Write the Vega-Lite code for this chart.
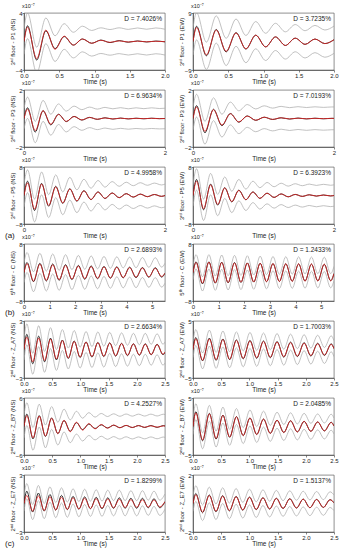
{
"$schema":"https://vega.github.io/schema/vega-lite/v6.json",
"padding":{"left":4,"top":3,"right":2,"bottom":2},
"background":"white",
"datasets":{
"a1L":[{"t":0,"b":0,"r":0,"u":1.8,"l":-1.8},{"t":0.05,"b":2.2,"r":2.0,"u":4.0,"l":0.4},{"t":0.18,"b":-2.6,"r":-2.4,"u":-0.8,"l":-4.4},{"t":0.31,"b":1.5,"r":1.6,"u":3.3,"l":-0.3},{"t":0.44,"b":-1.0,"r":-1.1,"u":0.8,"l":-2.8},{"t":0.57,"b":0.7,"r":0.75,"u":2.5,"l":-1.1},{"t":0.70,"b":-0.5,"r":-0.5,"u":1.3,"l":-2.3},{"t":0.83,"b":0.35,"r":0.35,"u":2.15,"l":-1.45},{"t":0.96,"b":-0.25,"r":-0.25,"u":1.55,"l":-2.05},{"t":1.09,"b":0.2,"r":0.17,"u":1.92,"l":-1.68},{"t":1.22,"b":-0.15,"r":-0.12,"u":1.68,"l":-1.92},{"t":1.35,"b":0.12,"r":0.09,"u":1.92,"l":-1.7},{"t":1.48,"b":-0.1,"r":-0.07,"u":1.7,"l":-1.9},{"t":1.61,"b":0.08,"r":0.05,"u":1.9,"l":-1.72},{"t":1.74,"b":-0.07,"r":-0.04,"u":1.72,"l":-1.9},{"t":1.87,"b":0.06,"r":0.03,"u":1.9,"l":-1.72},{"t":2.0,"b":-0.05,"r":-0.02,"u":1.72,"l":-1.9}],
"a1R":[{"t":0,"b":0,"r":0,"u":4.3,"l":-4.3},{"t":0.05,"b":4.8,"r":4.4,"u":9.1,"l":0.5},{"t":0.19,"b":-4.5,"r":-4.2,"u":-0.2,"l":-8.8},{"t":0.33,"b":3.8,"r":3.6,"u":8.1,"l":-0.5},{"t":0.47,"b":-3.3,"r":-3.1,"u":1.0,"l":-7.6},{"t":0.61,"b":2.8,"r":2.7,"u":7.1,"l":-1.5},{"t":0.75,"b":-2.4,"r":-2.3,"u":1.9,"l":-6.7},{"t":0.89,"b":2.0,"r":2.0,"u":6.3,"l":-2.3},{"t":1.03,"b":-1.7,"r":-1.7,"u":2.6,"l":-6.0},{"t":1.17,"b":1.45,"r":1.45,"u":5.75,"l":-2.85},{"t":1.31,"b":-1.25,"r":-1.25,"u":3.05,"l":-5.55},{"t":1.45,"b":1.05,"r":1.05,"u":5.35,"l":-3.25},{"t":1.59,"b":-0.9,"r":-0.9,"u":3.4,"l":-5.2},{"t":1.73,"b":0.78,"r":0.77,"u":5.08,"l":-3.52},{"t":1.87,"b":-0.66,"r":-0.66,"u":3.64,"l":-4.96},{"t":2.0,"b":0.56,"r":0.56,"u":4.86,"l":-3.74}],
"a2L":[{"t":0,"b":0,"r":0,"u":0.72,"l":-0.72},{"t":0.05,"b":0.75,"r":0.65,"u":1.5,"l":0},{"t":0.16,"b":-0.95,"r":-0.85,"u":-0.2,"l":-1.7},{"t":0.27,"b":0.55,"r":0.55,"u":1.27,"l":-0.2},{"t":0.38,"b":-0.45,"r":-0.4,"u":0.3,"l":-1.17},{"t":0.49,"b":0.3,"r":0.28,"u":1.02,"l":-0.42},{"t":0.60,"b":-0.22,"r":-0.2,"u":0.52,"l":-0.94},{"t":0.71,"b":0.15,"r":0.14,"u":0.87,"l":-0.57},{"t":0.82,"b":-0.11,"r":-0.1,"u":0.62,"l":-0.83},{"t":0.93,"b":0.08,"r":0.07,"u":0.8,"l":-0.64},{"t":1.04,"b":-0.06,"r":-0.05,"u":0.66,"l":-0.78},{"t":1.15,"b":0.05,"r":0.04,"u":0.78,"l":-0.67},{"t":1.26,"b":-0.04,"r":-0.03,"u":0.68,"l":-0.76},{"t":1.37,"b":0.03,"r":0.02,"u":0.76,"l":-0.69},{"t":1.48,"b":-0.03,"r":-0.02,"u":0.68,"l":-0.75},{"t":1.59,"b":0.02,"r":0.01,"u":0.75,"l":-0.7},{"t":1.70,"b":-0.02,"r":-0.01,"u":0.69,"l":-0.74},{"t":1.81,"b":0.02,"r":0.01,"u":0.75,"l":-0.7},{"t":1.92,"b":-0.01,"r":-0.01,"u":0.7,"l":-0.73},{"t":2.0,"b":0,"r":0,"u":0.72,"l":-0.72}],
"a2R":[{"t":0,"b":0,"r":0,"u":0.8,"l":-0.8},{"t":0.05,"b":0.9,"r":0.8,"u":1.7,"l":0.1},{"t":0.17,"b":-1.0,"r":-0.9,"u":-0.2,"l":-1.8},{"t":0.29,"b":0.65,"r":0.62,"u":1.45,"l":-0.15},{"t":0.41,"b":-0.5,"r":-0.46,"u":0.3,"l":-1.3},{"t":0.53,"b":0.35,"r":0.33,"u":1.15,"l":-0.45},{"t":0.65,"b":-0.26,"r":-0.24,"u":0.54,"l":-1.06},{"t":0.77,"b":0.18,"r":0.17,"u":0.98,"l":-0.62},{"t":0.89,"b":-0.13,"r":-0.12,"u":0.67,"l":-0.93},{"t":1.01,"b":0.09,"r":0.09,"u":0.89,"l":-0.71},{"t":1.13,"b":-0.07,"r":-0.06,"u":0.73,"l":-0.87},{"t":1.25,"b":0.05,"r":0.05,"u":0.85,"l":-0.75},{"t":1.37,"b":-0.04,"r":-0.03,"u":0.76,"l":-0.84},{"t":1.49,"b":0.03,"r":0.02,"u":0.83,"l":-0.77},{"t":1.61,"b":-0.03,"r":-0.02,"u":0.77,"l":-0.83},{"t":1.73,"b":0.02,"r":0.01,"u":0.82,"l":-0.78},{"t":1.85,"b":-0.02,"r":-0.01,"u":0.78,"l":-0.82},{"t":1.97,"b":0.01,"r":0.01,"u":0.81,"l":-0.79},{"t":2.0,"b":0.01,"r":0,"u":0.81,"l":-0.79}],
"a3L":[{"t":0,"b":0,"r":0,"u":3.2,"l":-3.2},{"t":0.05,"b":4.0,"r":3.5,"u":7.2,"l":0.8},{"t":0.15,"b":-4.2,"r":-3.8,"u":-1.0,"l":-7.4},{"t":0.25,"b":3.4,"r":3.2,"u":6.6,"l":0.2},{"t":0.35,"b":-3.0,"r":-2.8,"u":0.2,"l":-6.2},{"t":0.45,"b":2.6,"r":2.4,"u":5.8,"l":-0.6},{"t":0.55,"b":-2.2,"r":-2.1,"u":1.0,"l":-5.4},{"t":0.65,"b":1.9,"r":1.8,"u":5.1,"l":-1.3},{"t":0.75,"b":-1.6,"r":-1.5,"u":1.6,"l":-4.8},{"t":0.85,"b":1.35,"r":1.3,"u":4.55,"l":-1.85},{"t":0.95,"b":-1.15,"r":-1.1,"u":2.05,"l":-4.35},{"t":1.05,"b":1.0,"r":0.95,"u":4.2,"l":-2.2},{"t":1.15,"b":-0.85,"r":-0.8,"u":2.35,"l":-4.05},{"t":1.25,"b":0.72,"r":0.7,"u":3.92,"l":-2.48},{"t":1.35,"b":-0.62,"r":-0.6,"u":2.58,"l":-3.82},{"t":1.45,"b":0.53,"r":0.5,"u":3.73,"l":-2.67},{"t":1.55,"b":-0.45,"r":-0.43,"u":2.75,"l":-3.65},{"t":1.65,"b":0.39,"r":0.37,"u":3.59,"l":-2.81},{"t":1.75,"b":-0.33,"r":-0.32,"u":2.87,"l":-3.53},{"t":1.85,"b":0.28,"r":0.27,"u":3.48,"l":-2.92},{"t":1.95,"b":-0.24,"r":-0.23,"u":2.96,"l":-3.44},{"t":2.0,"b":0,"r":0,"u":3.2,"l":-3.2}],
"a3R":[{"t":0,"b":0,"r":0,"u":3.0,"l":-3.0},{"t":0.05,"b":4.5,"r":4.0,"u":7.5,"l":1.5},{"t":0.15,"b":-4.0,"r":-3.7,"u":-1.0,"l":-7.0},{"t":0.25,"b":3.2,"r":3.0,"u":6.2,"l":0.2},{"t":0.35,"b":-2.7,"r":-2.5,"u":0.3,"l":-5.7},{"t":0.45,"b":2.2,"r":2.1,"u":5.2,"l":-0.8},{"t":0.55,"b":-1.8,"r":-1.7,"u":1.2,"l":-4.8},{"t":0.65,"b":1.5,"r":1.4,"u":4.5,"l":-1.5},{"t":0.75,"b":-1.2,"r":-1.15,"u":1.8,"l":-4.2},{"t":0.85,"b":1.0,"r":0.95,"u":4.0,"l":-2.0},{"t":0.95,"b":-0.82,"r":-0.78,"u":2.18,"l":-3.82},{"t":1.05,"b":0.67,"r":0.64,"u":3.67,"l":-2.33},{"t":1.15,"b":-0.55,"r":-0.52,"u":2.45,"l":-3.55},{"t":1.25,"b":0.45,"r":0.43,"u":3.45,"l":-2.55},{"t":1.35,"b":-0.37,"r":-0.35,"u":2.63,"l":-3.37},{"t":1.45,"b":0.3,"r":0.29,"u":3.3,"l":-2.7},{"t":1.55,"b":-0.25,"r":-0.24,"u":2.75,"l":-3.25},{"t":1.65,"b":0.2,"r":0.2,"u":3.2,"l":-2.8},{"t":1.75,"b":-0.17,"r":-0.16,"u":2.83,"l":-3.17},{"t":1.85,"b":0.14,"r":0.13,"u":3.14,"l":-2.86},{"t":1.95,"b":-0.12,"r":-0.11,"u":2.88,"l":-3.12},{"t":2.0,"b":0,"r":0,"u":3.0,"l":-3.0}],
"bL":[{"t":0,"b":0,"r":0,"u":2.8,"l":-2.8},{"t":0.12,"b":2.8,"r":2.5,"u":5.6,"l":0.0},{"t":0.37,"b":-2.6,"r":-2.4,"u":0.2,"l":-5.4},{"t":0.62,"b":2.6,"r":2.35,"u":5.4,"l":-0.2},{"t":0.87,"b":-2.4,"r":-2.2,"u":0.4,"l":-5.2},{"t":1.12,"b":2.4,"r":2.15,"u":5.2,"l":-0.4},{"t":1.37,"b":-2.2,"r":-2.0,"u":0.6,"l":-5.0},{"t":1.62,"b":2.2,"r":1.95,"u":5.0,"l":-0.6},{"t":1.87,"b":-2.0,"r":-1.85,"u":0.8,"l":-4.8},{"t":2.12,"b":2.0,"r":1.8,"u":4.8,"l":-0.8},{"t":2.37,"b":-1.9,"r":-1.7,"u":0.9,"l":-4.7},{"t":2.62,"b":1.85,"r":1.65,"u":4.65,"l":-0.95},{"t":2.87,"b":-1.75,"r":-1.6,"u":1.05,"l":-4.55},{"t":3.12,"b":1.7,"r":1.55,"u":4.5,"l":-1.1},{"t":3.37,"b":-1.6,"r":-1.5,"u":1.2,"l":-4.4},{"t":3.62,"b":1.6,"r":1.45,"u":4.4,"l":-1.2},{"t":3.87,"b":-1.5,"r":-1.4,"u":1.3,"l":-4.3},{"t":4.12,"b":1.5,"r":1.35,"u":4.3,"l":-1.3},{"t":4.37,"b":-1.45,"r":-1.3,"u":1.35,"l":-4.25},{"t":4.62,"b":1.4,"r":1.25,"u":4.2,"l":-1.4},{"t":4.87,"b":-1.35,"r":-1.2,"u":1.45,"l":-4.15},{"t":5.12,"b":1.35,"r":1.15,"u":4.15,"l":-1.45},{"t":5.37,"b":-1.3,"r":-1.1,"u":1.5,"l":-4.1},{"t":5.5,"b":-0.2,"r":-0.2,"u":2.6,"l":-3.0}],
"bR":[{"t":0,"b":0,"r":0,"u":2.0,"l":-2.0},{"t":0.12,"b":3.0,"r":2.8,"u":5.0,"l":1.0},{"t":0.37,"b":-3.2,"r":-3.0,"u":-1.2,"l":-5.2},{"t":0.62,"b":3.0,"r":2.9,"u":5.0,"l":1.0},{"t":0.87,"b":-3.0,"r":-2.9,"u":-1.0,"l":-5.0},{"t":1.12,"b":2.9,"r":2.8,"u":4.9,"l":0.9},{"t":1.37,"b":-2.9,"r":-2.8,"u":-0.9,"l":-4.9},{"t":1.62,"b":2.8,"r":2.7,"u":4.8,"l":0.8},{"t":1.87,"b":-2.8,"r":-2.7,"u":-0.8,"l":-4.8},{"t":2.12,"b":2.7,"r":2.65,"u":4.7,"l":0.7},{"t":2.37,"b":-2.7,"r":-2.65,"u":-0.7,"l":-4.7},{"t":2.62,"b":2.6,"r":2.6,"u":4.6,"l":0.6},{"t":2.87,"b":-2.6,"r":-2.6,"u":-0.6,"l":-4.6},{"t":3.12,"b":2.5,"r":2.55,"u":4.5,"l":0.5},{"t":3.37,"b":-2.5,"r":-2.55,"u":-0.5,"l":-4.5},{"t":3.62,"b":2.45,"r":2.5,"u":4.45,"l":0.45},{"t":3.87,"b":-2.45,"r":-2.5,"u":-0.45,"l":-4.45},{"t":4.12,"b":2.4,"r":2.45,"u":4.4,"l":0.4},{"t":4.37,"b":-2.4,"r":-2.45,"u":-0.4,"l":-4.4},{"t":4.62,"b":2.35,"r":2.4,"u":4.35,"l":0.35},{"t":4.87,"b":-2.35,"r":-2.4,"u":-0.35,"l":-4.35},{"t":5.12,"b":2.3,"r":2.35,"u":4.3,"l":0.3},{"t":5.37,"b":-2.3,"r":-2.35,"u":-0.3,"l":-4.3},{"t":5.5,"b":-0.3,"r":-0.3,"u":1.7,"l":-2.3}],
"c1L":[{"t":0,"b":0,"r":0,"u":1.1,"l":-1.1},{"t":0.05,"b":1.6,"r":1.3,"u":2.7,"l":0.5},{"t":0.155,"b":-1.5,"r":-1.3,"u":-0.4,"l":-2.6},{"t":0.26,"b":1.4,"r":1.2,"u":2.5,"l":0.3},{"t":0.365,"b":-1.3,"r":-1.15,"u":-0.2,"l":-2.4},{"t":0.47,"b":1.2,"r":1.1,"u":2.3,"l":0.1},{"t":0.575,"b":-1.1,"r":-1.0,"u":0.0,"l":-2.2},{"t":0.68,"b":1.0,"r":0.95,"u":2.1,"l":-0.1},{"t":0.785,"b":-0.95,"r":-0.9,"u":0.15,"l":-2.05},{"t":0.89,"b":0.9,"r":0.85,"u":2.0,"l":-0.2},{"t":0.995,"b":-0.85,"r":-0.8,"u":0.25,"l":-1.95},{"t":1.1,"b":0.8,"r":0.78,"u":1.9,"l":-0.3},{"t":1.205,"b":-0.8,"r":-0.75,"u":0.3,"l":-1.9},{"t":1.31,"b":0.75,"r":0.72,"u":1.85,"l":-0.35},{"t":1.415,"b":-0.75,"r":-0.7,"u":0.35,"l":-1.85},{"t":1.52,"b":0.7,"r":0.67,"u":1.8,"l":-0.4},{"t":1.625,"b":-0.7,"r":-0.65,"u":0.4,"l":-1.8},{"t":1.73,"b":0.65,"r":0.62,"u":1.75,"l":-0.45},{"t":1.835,"b":-0.65,"r":-0.6,"u":0.45,"l":-1.75},{"t":1.94,"b":0.6,"r":0.58,"u":1.7,"l":-0.5},{"t":2.045,"b":-0.6,"r":-0.56,"u":0.5,"l":-1.7},{"t":2.15,"b":0.6,"r":0.55,"u":1.7,"l":-0.5},{"t":2.255,"b":-0.55,"r":-0.53,"u":0.55,"l":-1.65},{"t":2.36,"b":0.55,"r":0.52,"u":1.65,"l":-0.55},{"t":2.465,"b":-0.55,"r":-0.5,"u":0.55,"l":-1.65},{"t":2.5,"b":-0.3,"r":-0.25,"u":0.8,"l":-1.4}],
"c1R":[{"t":0,"b":0,"r":0,"u":1.4,"l":-1.4},{"t":0.05,"b":2.1,"r":1.9,"u":3.5,"l":0.7},{"t":0.17,"b":-2.0,"r":-1.9,"u":-0.6,"l":-3.4},{"t":0.29,"b":2.0,"r":1.85,"u":3.4,"l":0.6},{"t":0.41,"b":-1.9,"r":-1.8,"u":-0.5,"l":-3.3},{"t":0.53,"b":1.85,"r":1.75,"u":3.25,"l":0.45},{"t":0.65,"b":-1.8,"r":-1.7,"u":-0.4,"l":-3.2},{"t":0.77,"b":1.7,"r":1.6,"u":3.1,"l":0.3},{"t":0.89,"b":-1.65,"r":-1.55,"u":-0.25,"l":-3.05},{"t":1.01,"b":1.6,"r":1.5,"u":3.0,"l":0.2},{"t":1.13,"b":-1.55,"r":-1.45,"u":-0.15,"l":-2.95},{"t":1.25,"b":1.5,"r":1.4,"u":2.9,"l":0.1},{"t":1.37,"b":-1.45,"r":-1.35,"u":-0.05,"l":-2.85},{"t":1.49,"b":1.4,"r":1.3,"u":2.8,"l":0.0},{"t":1.61,"b":-1.35,"r":-1.25,"u":0.05,"l":-2.75},{"t":1.73,"b":1.3,"r":1.2,"u":2.7,"l":-0.1},{"t":1.85,"b":-1.25,"r":-1.15,"u":0.15,"l":-2.65},{"t":1.97,"b":1.2,"r":1.1,"u":2.6,"l":-0.2},{"t":2.09,"b":-1.15,"r":-1.05,"u":0.25,"l":-2.55},{"t":2.21,"b":1.1,"r":1.0,"u":2.5,"l":-0.3},{"t":2.33,"b":-1.05,"r":-0.95,"u":0.35,"l":-2.45},{"t":2.45,"b":1.0,"r":0.9,"u":2.4,"l":-0.4},{"t":2.5,"b":0.15,"r":0.15,"u":1.55,"l":-1.25}],
"c2L":[{"t":0,"b":0,"r":0,"u":2.4,"l":-2.4},{"t":0.05,"b":2.6,"r":2.3,"u":5.0,"l":0.2},{"t":0.16,"b":-2.6,"r":-2.4,"u":-0.2,"l":-5.0},{"t":0.27,"b":2.3,"r":2.2,"u":4.7,"l":-0.1},{"t":0.38,"b":-2.1,"r":-2.0,"u":0.3,"l":-4.5},{"t":0.49,"b":1.8,"r":1.75,"u":4.2,"l":-0.6},{"t":0.60,"b":-1.5,"r":-1.5,"u":0.9,"l":-3.9},{"t":0.71,"b":1.25,"r":1.3,"u":3.65,"l":-1.15},{"t":0.82,"b":-1.0,"r":-1.1,"u":1.4,"l":-3.4},{"t":0.93,"b":0.8,"r":0.9,"u":3.2,"l":-1.6},{"t":1.04,"b":-0.65,"r":-0.75,"u":1.75,"l":-3.05},{"t":1.15,"b":0.52,"r":0.62,"u":2.92,"l":-1.88},{"t":1.26,"b":-0.42,"r":-0.5,"u":1.98,"l":-2.82},{"t":1.37,"b":0.35,"r":0.42,"u":2.75,"l":-2.05},{"t":1.48,"b":-0.3,"r":-0.35,"u":2.1,"l":-2.7},{"t":1.59,"b":0.27,"r":0.3,"u":2.67,"l":-2.13},{"t":1.70,"b":-0.25,"r":-0.26,"u":2.15,"l":-2.65},{"t":1.81,"b":0.23,"r":0.23,"u":2.63,"l":-2.17},{"t":1.92,"b":-0.22,"r":-0.2,"u":2.18,"l":-2.62},{"t":2.03,"b":0.2,"r":0.18,"u":2.6,"l":-2.2},{"t":2.14,"b":-0.2,"r":-0.16,"u":2.2,"l":-2.6},{"t":2.25,"b":0.2,"r":0.15,"u":2.6,"l":-2.2},{"t":2.36,"b":-0.18,"r":-0.14,"u":2.22,"l":-2.58},{"t":2.47,"b":0.18,"r":0.13,"u":2.58,"l":-2.22},{"t":2.5,"b":0.1,"r":0.1,"u":2.5,"l":-2.3}],
"c2R":[{"t":0,"b":0,"r":0,"u":1.4,"l":-1.4},{"t":0.05,"b":2.6,"r":2.4,"u":4.0,"l":1.2},{"t":0.17,"b":-2.5,"r":-2.35,"u":-1.1,"l":-3.9},{"t":0.29,"b":2.3,"r":2.2,"u":3.7,"l":0.9},{"t":0.41,"b":-2.2,"r":-2.1,"u":-0.8,"l":-3.6},{"t":0.53,"b":2.0,"r":1.95,"u":3.4,"l":0.6},{"t":0.65,"b":-1.9,"r":-1.85,"u":-0.5,"l":-3.3},{"t":0.77,"b":1.75,"r":1.7,"u":3.15,"l":0.35},{"t":0.89,"b":-1.6,"r":-1.6,"u":-0.2,"l":-3.0},{"t":1.01,"b":1.5,"r":1.5,"u":2.9,"l":0.1},{"t":1.13,"b":-1.4,"r":-1.4,"u":0.0,"l":-2.8},{"t":1.25,"b":1.3,"r":1.3,"u":2.7,"l":-0.1},{"t":1.37,"b":-1.2,"r":-1.2,"u":0.2,"l":-2.6},{"t":1.49,"b":1.1,"r":1.1,"u":2.5,"l":-0.3},{"t":1.61,"b":-1.05,"r":-1.05,"u":0.35,"l":-2.45},{"t":1.73,"b":1.0,"r":1.0,"u":2.4,"l":-0.4},{"t":1.85,"b":-0.95,"r":-0.95,"u":0.45,"l":-2.35},{"t":1.97,"b":0.9,"r":0.9,"u":2.3,"l":-0.5},{"t":2.09,"b":-0.85,"r":-0.85,"u":0.55,"l":-2.25},{"t":2.21,"b":0.8,"r":0.8,"u":2.2,"l":-0.6},{"t":2.33,"b":-0.78,"r":-0.75,"u":0.62,"l":-2.18},{"t":2.45,"b":0.75,"r":0.7,"u":2.15,"l":-0.65},{"t":2.5,"b":0.1,"r":0.1,"u":1.5,"l":-1.3}],
"c3L":[{"t":0,"b":0,"r":0,"u":0.8,"l":-0.8},{"t":0.05,"b":1.3,"r":0.85,"u":2.1,"l":0.5},{"t":0.153,"b":-0.9,"r":-0.8,"u":-0.1,"l":-1.7},{"t":0.255,"b":1.1,"r":0.8,"u":1.9,"l":0.3},{"t":0.358,"b":-0.8,"r":-0.75,"u":0.0,"l":-1.6},{"t":0.46,"b":0.95,"r":0.72,"u":1.75,"l":0.15},{"t":0.563,"b":-0.7,"r":-0.68,"u":0.1,"l":-1.5},{"t":0.665,"b":0.85,"r":0.65,"u":1.65,"l":0.05},{"t":0.768,"b":-0.65,"r":-0.62,"u":0.15,"l":-1.45},{"t":0.87,"b":0.75,"r":0.6,"u":1.55,"l":-0.05},{"t":0.973,"b":-0.6,"r":-0.57,"u":0.2,"l":-1.4},{"t":1.075,"b":0.7,"r":0.55,"u":1.5,"l":-0.1},{"t":1.178,"b":-0.55,"r":-0.52,"u":0.25,"l":-1.35},{"t":1.28,"b":0.65,"r":0.5,"u":1.45,"l":-0.15},{"t":1.383,"b":-0.55,"r":-0.48,"u":0.25,"l":-1.35},{"t":1.485,"b":0.6,"r":0.47,"u":1.4,"l":-0.2},{"t":1.588,"b":-0.5,"r":-0.45,"u":0.3,"l":-1.3},{"t":1.69,"b":0.6,"r":0.44,"u":1.4,"l":-0.2},{"t":1.793,"b":-0.5,"r":-0.42,"u":0.3,"l":-1.3},{"t":1.895,"b":0.55,"r":0.41,"u":1.35,"l":-0.25},{"t":1.998,"b":-0.5,"r":-0.4,"u":0.3,"l":-1.3},{"t":2.1,"b":0.55,"r":0.39,"u":1.35,"l":-0.25},{"t":2.203,"b":-0.45,"r":-0.38,"u":0.35,"l":-1.25},{"t":2.305,"b":0.5,"r":0.37,"u":1.3,"l":-0.3},{"t":2.408,"b":-0.45,"r":-0.36,"u":0.35,"l":-1.25},{"t":2.5,"b":0.2,"r":0.2,"u":1.0,"l":-0.6}],
"c3R":[{"t":0,"b":0,"r":0,"u":0.55,"l":-0.55},{"t":0.05,"b":0.7,"r":0.62,"u":1.25,"l":0.15},{"t":0.169,"b":-0.65,"r":-0.6,"u":-0.1,"l":-1.2},{"t":0.288,"b":0.6,"r":0.56,"u":1.15,"l":0.05},{"t":0.407,"b":-0.58,"r":-0.54,"u":-0.03,"l":-1.13},{"t":0.526,"b":0.55,"r":0.51,"u":1.1,"l":0.0},{"t":0.645,"b":-0.52,"r":-0.49,"u":0.03,"l":-1.07},{"t":0.764,"b":0.5,"r":0.47,"u":1.05,"l":-0.05},{"t":0.883,"b":-0.47,"r":-0.45,"u":0.08,"l":-1.02},{"t":1.002,"b":0.45,"r":0.43,"u":1.0,"l":-0.1},{"t":1.121,"b":-0.43,"r":-0.41,"u":0.12,"l":-0.98},{"t":1.24,"b":0.41,"r":0.39,"u":0.96,"l":-0.14},{"t":1.359,"b":-0.39,"r":-0.37,"u":0.16,"l":-0.94},{"t":1.478,"b":0.37,"r":0.35,"u":0.92,"l":-0.18},{"t":1.597,"b":-0.35,"r":-0.34,"u":0.2,"l":-0.9},{"t":1.716,"b":0.34,"r":0.32,"u":0.89,"l":-0.21},{"t":1.835,"b":-0.32,"r":-0.31,"u":0.23,"l":-0.87},{"t":1.954,"b":0.31,"r":0.3,"u":0.86,"l":-0.24},{"t":2.073,"b":-0.3,"r":-0.29,"u":0.25,"l":-0.85},{"t":2.192,"b":0.29,"r":0.28,"u":0.84,"l":-0.26},{"t":2.311,"b":-0.28,"r":-0.27,"u":0.27,"l":-0.83},{"t":2.43,"b":0.27,"r":0.26,"u":0.82,"l":-0.28},{"t":2.5,"b":0.05,"r":0.05,"u":0.6,"l":-0.5}]
},
"columns":2,
"bounds":"flush",
"spacing":{"row":20,"column":28},
"concat":[
  {"title":{"text":"x10⁻⁷","frame":"group"},"width":141,"height":57,"data":{"name":"a1L"},"encoding":{"x":{"field":"t","type":"quantitative","scale":{"domain":[0,2],"nice":false,"zero":false},"axis":{"values":[0,0.5,1,1.5,2],"format":".1f","title":"Time (s)"}}},
   "layer":[
    {"mark":{"type":"line","interpolate":"monotone","clip":true,"color":"#a6a6a6","strokeWidth":0.7},"encoding":{"y":{"field":"u","type":"quantitative","scale":{"domain":[-4,4],"nice":false,"zero":false},"axis":{"values":[-4,-2,0,2,4],"format":"~g","title":"3ʳᵈ floor - P1 (NS)"}}}},
    {"mark":{"type":"line","interpolate":"monotone","clip":true,"color":"#a6a6a6","strokeWidth":0.7},"encoding":{"y":{"field":"l","type":"quantitative"}}},
    {"mark":{"type":"line","interpolate":"monotone","clip":true,"color":"#1a1a1a","strokeWidth":0.9},"encoding":{"y":{"field":"b","type":"quantitative"}}},
    {"mark":{"type":"line","interpolate":"monotone","clip":true,"color":"#e02020","strokeWidth":0.8},"encoding":{"y":{"field":"r","type":"quantitative"}}},
    {"data":{"values":[{"d":"D = 7.4026%","t":2}]},"mark":{"type":"text","align":"right","baseline":"top","dx":-3,"dy":3,"fontSize":6.5,"color":"#222"},"encoding":{"y":{"datum":4},"text":{"field":"d"}}}
   ]},
  {"title":{"text":"x10⁻⁷","frame":"group"},"width":141,"height":57,"data":{"name":"a1R"},"encoding":{"x":{"field":"t","type":"quantitative","scale":{"domain":[0,2],"nice":false,"zero":false},"axis":{"values":[0,0.5,1,1.5,2],"format":".1f","title":"Time (s)"}}},
   "layer":[
    {"mark":{"type":"line","interpolate":"monotone","clip":true,"color":"#a6a6a6","strokeWidth":0.7},"encoding":{"y":{"field":"u","type":"quantitative","scale":{"domain":[-9,9],"nice":false,"zero":false},"axis":{"values":[-9,-6,-3,0,3,6,9],"format":"~g","title":"3ʳᵈ floor - P1 (EW)"}}}},
    {"mark":{"type":"line","interpolate":"monotone","clip":true,"color":"#a6a6a6","strokeWidth":0.7},"encoding":{"y":{"field":"l","type":"quantitative"}}},
    {"mark":{"type":"line","interpolate":"monotone","clip":true,"color":"#1a1a1a","strokeWidth":0.9},"encoding":{"y":{"field":"b","type":"quantitative"}}},
    {"mark":{"type":"line","interpolate":"monotone","clip":true,"color":"#e02020","strokeWidth":0.8},"encoding":{"y":{"field":"r","type":"quantitative"}}},
    {"data":{"values":[{"d":"D = 3.7235%","t":2}]},"mark":{"type":"text","align":"right","baseline":"top","dx":-3,"dy":3,"fontSize":6.5,"color":"#222"},"encoding":{"y":{"datum":9},"text":{"field":"d"}}}
   ]},
  {"title":{"text":"x10⁻⁷","frame":"group"},"width":141,"height":57,"data":{"name":"a2L"},"encoding":{"x":{"field":"t","type":"quantitative","scale":{"domain":[0,2],"nice":false,"zero":false},"axis":{"values":[0,1,2],"format":"d","title":"Time (s)"}}},
   "layer":[
    {"mark":{"type":"line","interpolate":"monotone","clip":true,"color":"#a6a6a6","strokeWidth":0.7},"encoding":{"y":{"field":"u","type":"quantitative","scale":{"domain":[-2,2],"nice":false,"zero":false},"axis":{"values":[-2,-1,0,1,2],"format":"~g","title":"3ʳᵈ floor - P3 (NS)"}}}},
    {"mark":{"type":"line","interpolate":"monotone","clip":true,"color":"#a6a6a6","strokeWidth":0.7},"encoding":{"y":{"field":"l","type":"quantitative"}}},
    {"mark":{"type":"line","interpolate":"monotone","clip":true,"color":"#1a1a1a","strokeWidth":0.9},"encoding":{"y":{"field":"b","type":"quantitative"}}},
    {"mark":{"type":"line","interpolate":"monotone","clip":true,"color":"#e02020","strokeWidth":0.8},"encoding":{"y":{"field":"r","type":"quantitative"}}},
    {"data":{"values":[{"d":"D = 6.9634%","t":2}]},"mark":{"type":"text","align":"right","baseline":"top","dx":-3,"dy":3,"fontSize":6.5,"color":"#222"},"encoding":{"y":{"datum":2},"text":{"field":"d"}}}
   ]},
  {"title":{"text":"x10⁻⁷","frame":"group"},"width":141,"height":57,"data":{"name":"a2R"},"encoding":{"x":{"field":"t","type":"quantitative","scale":{"domain":[0,2],"nice":false,"zero":false},"axis":{"values":[0,1,2],"format":"d","title":"Time (s)"}}},
   "layer":[
    {"mark":{"type":"line","interpolate":"monotone","clip":true,"color":"#a6a6a6","strokeWidth":0.7},"encoding":{"y":{"field":"u","type":"quantitative","scale":{"domain":[-2,2],"nice":false,"zero":false},"axis":{"values":[-2,-1,0,1,2],"format":"~g","title":"3ʳᵈ floor - P3 (EW)"}}}},
    {"mark":{"type":"line","interpolate":"monotone","clip":true,"color":"#a6a6a6","strokeWidth":0.7},"encoding":{"y":{"field":"l","type":"quantitative"}}},
    {"mark":{"type":"line","interpolate":"monotone","clip":true,"color":"#1a1a1a","strokeWidth":0.9},"encoding":{"y":{"field":"b","type":"quantitative"}}},
    {"mark":{"type":"line","interpolate":"monotone","clip":true,"color":"#e02020","strokeWidth":0.8},"encoding":{"y":{"field":"r","type":"quantitative"}}},
    {"data":{"values":[{"d":"D = 7.0193%","t":2}]},"mark":{"type":"text","align":"right","baseline":"top","dx":-3,"dy":3,"fontSize":6.5,"color":"#222"},"encoding":{"y":{"datum":2},"text":{"field":"d"}}}
   ]},
  {"title":{"text":"x10⁻⁷","frame":"group"},"width":141,"height":57,"data":{"name":"a3L"},"encoding":{"x":{"field":"t","type":"quantitative","scale":{"domain":[0,2],"nice":false,"zero":false},"axis":{"values":[0,1,2],"format":"d","title":"Time (s)"}}},
   "layer":[
    {"mark":{"type":"line","interpolate":"monotone","clip":true,"color":"#a6a6a6","strokeWidth":0.7},"encoding":{"y":{"field":"u","type":"quantitative","scale":{"domain":[-8,8],"nice":false,"zero":false},"axis":{"values":[-8,-4,0,4,8],"format":"~g","title":"3ʳᵈ floor - P5 (NS)"}}}},
    {"mark":{"type":"line","interpolate":"monotone","clip":true,"color":"#a6a6a6","strokeWidth":0.7},"encoding":{"y":{"field":"l","type":"quantitative"}}},
    {"mark":{"type":"line","interpolate":"monotone","clip":true,"color":"#1a1a1a","strokeWidth":0.9},"encoding":{"y":{"field":"b","type":"quantitative"}}},
    {"mark":{"type":"line","interpolate":"monotone","clip":true,"color":"#e02020","strokeWidth":0.8},"encoding":{"y":{"field":"r","type":"quantitative"}}},
    {"data":{"values":[{"d":"D = 4.9958%","t":2}]},"mark":{"type":"text","align":"right","baseline":"top","dx":-3,"dy":3,"fontSize":6.5,"color":"#222"},"encoding":{"y":{"datum":8},"text":{"field":"d"}}},
    {"data":{"values":[{"s":"(a)","t":0}]},"mark":{"type":"text","align":"left","baseline":"middle","dx":-19,"dy":12,"fontSize":8,"color":"#222"},"encoding":{"y":{"datum":-8},"text":{"field":"s"}}}
   ]},
  {"title":{"text":"x10⁻⁷","frame":"group"},"width":141,"height":57,"data":{"name":"a3R"},"encoding":{"x":{"field":"t","type":"quantitative","scale":{"domain":[0,2],"nice":false,"zero":false},"axis":{"values":[0,1,2],"format":"d","title":"Time (s)"}}},
   "layer":[
    {"mark":{"type":"line","interpolate":"monotone","clip":true,"color":"#a6a6a6","strokeWidth":0.7},"encoding":{"y":{"field":"u","type":"quantitative","scale":{"domain":[-8,8],"nice":false,"zero":false},"axis":{"values":[-8,-4,0,4,8],"format":"~g","title":"3ʳᵈ floor - P5 (EW)"}}}},
    {"mark":{"type":"line","interpolate":"monotone","clip":true,"color":"#a6a6a6","strokeWidth":0.7},"encoding":{"y":{"field":"l","type":"quantitative"}}},
    {"mark":{"type":"line","interpolate":"monotone","clip":true,"color":"#1a1a1a","strokeWidth":0.9},"encoding":{"y":{"field":"b","type":"quantitative"}}},
    {"mark":{"type":"line","interpolate":"monotone","clip":true,"color":"#e02020","strokeWidth":0.8},"encoding":{"y":{"field":"r","type":"quantitative"}}},
    {"data":{"values":[{"d":"D = 6.3923%","t":2}]},"mark":{"type":"text","align":"right","baseline":"top","dx":-3,"dy":3,"fontSize":6.5,"color":"#222"},"encoding":{"y":{"datum":8},"text":{"field":"d"}}}
   ]},
  {"title":{"text":"x10⁻⁷","frame":"group"},"width":141,"height":57,"data":{"name":"bL"},"encoding":{"x":{"field":"t","type":"quantitative","scale":{"domain":[0,5.5],"nice":false,"zero":false},"axis":{"values":[0,1,2,3,4,5],"format":"d","title":"Time (s)"}}},
   "layer":[
    {"mark":{"type":"line","interpolate":"monotone","clip":true,"color":"#a6a6a6","strokeWidth":0.7},"encoding":{"y":{"field":"u","type":"quantitative","scale":{"domain":[-8,8],"nice":false,"zero":false},"axis":{"values":[-8,-4,0,4,8],"format":"~g","title":"5ᵗʰ floor - C (NS)"}}}},
    {"mark":{"type":"line","interpolate":"monotone","clip":true,"color":"#a6a6a6","strokeWidth":0.7},"encoding":{"y":{"field":"l","type":"quantitative"}}},
    {"mark":{"type":"line","interpolate":"monotone","clip":true,"color":"#1a1a1a","strokeWidth":0.9},"encoding":{"y":{"field":"b","type":"quantitative"}}},
    {"mark":{"type":"line","interpolate":"monotone","clip":true,"color":"#e02020","strokeWidth":0.8},"encoding":{"y":{"field":"r","type":"quantitative"}}},
    {"data":{"values":[{"d":"D = 2.6893%","t":5.5}]},"mark":{"type":"text","align":"right","baseline":"top","dx":-3,"dy":3,"fontSize":6.5,"color":"#222"},"encoding":{"y":{"datum":8},"text":{"field":"d"}}},
    {"data":{"values":[{"s":"(b)","t":0}]},"mark":{"type":"text","align":"left","baseline":"middle","dx":-19,"dy":12,"fontSize":8,"color":"#222"},"encoding":{"y":{"datum":-8},"text":{"field":"s"}}}
   ]},
  {"title":{"text":"x10⁻⁷","frame":"group"},"width":141,"height":57,"data":{"name":"bR"},"encoding":{"x":{"field":"t","type":"quantitative","scale":{"domain":[0,5.5],"nice":false,"zero":false},"axis":{"values":[0,1,2,3,4,5],"format":"d","title":"Time (s)"}}},
   "layer":[
    {"mark":{"type":"line","interpolate":"monotone","clip":true,"color":"#a6a6a6","strokeWidth":0.7},"encoding":{"y":{"field":"u","type":"quantitative","scale":{"domain":[-8,8],"nice":false,"zero":false},"axis":{"values":[-8,-4,0,4,8],"format":"~g","title":"5ᵗʰ floor - C (EW)"}}}},
    {"mark":{"type":"line","interpolate":"monotone","clip":true,"color":"#a6a6a6","strokeWidth":0.7},"encoding":{"y":{"field":"l","type":"quantitative"}}},
    {"mark":{"type":"line","interpolate":"monotone","clip":true,"color":"#1a1a1a","strokeWidth":0.9},"encoding":{"y":{"field":"b","type":"quantitative"}}},
    {"mark":{"type":"line","interpolate":"monotone","clip":true,"color":"#e02020","strokeWidth":0.8},"encoding":{"y":{"field":"r","type":"quantitative"}}},
    {"data":{"values":[{"d":"D = 1.2433%","t":5.5}]},"mark":{"type":"text","align":"right","baseline":"top","dx":-3,"dy":3,"fontSize":6.5,"color":"#222"},"encoding":{"y":{"datum":8},"text":{"field":"d"}}}
   ]},
  {"title":{"text":"x10⁻⁷","frame":"group"},"width":141,"height":57,"data":{"name":"c1L"},"encoding":{"x":{"field":"t","type":"quantitative","scale":{"domain":[0,2.5],"nice":false,"zero":false},"axis":{"values":[0,0.5,1,1.5,2,2.5],"format":".1f","title":"Time (s)"}}},
   "layer":[
    {"mark":{"type":"line","interpolate":"monotone","clip":true,"color":"#a6a6a6","strokeWidth":0.7},"encoding":{"y":{"field":"u","type":"quantitative","scale":{"domain":[-3,3],"nice":false,"zero":false},"axis":{"values":[-3,-1.5,0,1.5,3],"format":"~g","title":"2ⁿᵈ floor - Z_A7 (NS)"}}}},
    {"mark":{"type":"line","interpolate":"monotone","clip":true,"color":"#a6a6a6","strokeWidth":0.7},"encoding":{"y":{"field":"l","type":"quantitative"}}},
    {"mark":{"type":"line","interpolate":"monotone","clip":true,"color":"#1a1a1a","strokeWidth":0.9},"encoding":{"y":{"field":"b","type":"quantitative"}}},
    {"mark":{"type":"line","interpolate":"monotone","clip":true,"color":"#e02020","strokeWidth":0.8},"encoding":{"y":{"field":"r","type":"quantitative"}}},
    {"data":{"values":[{"d":"D = 2.6634%","t":2.5}]},"mark":{"type":"text","align":"right","baseline":"top","dx":-3,"dy":3,"fontSize":6.5,"color":"#222"},"encoding":{"y":{"datum":3},"text":{"field":"d"}}}
   ]},
  {"title":{"text":"x10⁻⁷","frame":"group"},"width":141,"height":57,"data":{"name":"c1R"},"encoding":{"x":{"field":"t","type":"quantitative","scale":{"domain":[0,2.5],"nice":false,"zero":false},"axis":{"values":[0,0.5,1,1.5,2,2.5],"format":".1f","title":"Time (s)"}}},
   "layer":[
    {"mark":{"type":"line","interpolate":"monotone","clip":true,"color":"#a6a6a6","strokeWidth":0.7},"encoding":{"y":{"field":"u","type":"quantitative","scale":{"domain":[-5,5],"nice":false,"zero":false},"axis":{"values":[-5,-2.5,0,2.5,5],"format":"~g","title":"2ⁿᵈ floor - Z_A7 (EW)"}}}},
    {"mark":{"type":"line","interpolate":"monotone","clip":true,"color":"#a6a6a6","strokeWidth":0.7},"encoding":{"y":{"field":"l","type":"quantitative"}}},
    {"mark":{"type":"line","interpolate":"monotone","clip":true,"color":"#1a1a1a","strokeWidth":0.9},"encoding":{"y":{"field":"b","type":"quantitative"}}},
    {"mark":{"type":"line","interpolate":"monotone","clip":true,"color":"#e02020","strokeWidth":0.8},"encoding":{"y":{"field":"r","type":"quantitative"}}},
    {"data":{"values":[{"d":"D = 1.7003%","t":2.5}]},"mark":{"type":"text","align":"right","baseline":"top","dx":-3,"dy":3,"fontSize":6.5,"color":"#222"},"encoding":{"y":{"datum":5},"text":{"field":"d"}}}
   ]},
  {"title":{"text":"x10⁻⁷","frame":"group"},"width":141,"height":57,"data":{"name":"c2L"},"encoding":{"x":{"field":"t","type":"quantitative","scale":{"domain":[0,2.5],"nice":false,"zero":false},"axis":{"values":[0,0.5,1,1.5,2,2.5],"format":".1f","title":"Time (s)"}}},
   "layer":[
    {"mark":{"type":"line","interpolate":"monotone","clip":true,"color":"#a6a6a6","strokeWidth":0.7},"encoding":{"y":{"field":"u","type":"quantitative","scale":{"domain":[-6,6],"nice":false,"zero":false},"axis":{"values":[-6,-3,0,3,6],"format":"~g","title":"2ⁿᵈ floor - Z_B7 (NS)"}}}},
    {"mark":{"type":"line","interpolate":"monotone","clip":true,"color":"#a6a6a6","strokeWidth":0.7},"encoding":{"y":{"field":"l","type":"quantitative"}}},
    {"mark":{"type":"line","interpolate":"monotone","clip":true,"color":"#1a1a1a","strokeWidth":0.9},"encoding":{"y":{"field":"b","type":"quantitative"}}},
    {"mark":{"type":"line","interpolate":"monotone","clip":true,"color":"#e02020","strokeWidth":0.8},"encoding":{"y":{"field":"r","type":"quantitative"}}},
    {"data":{"values":[{"d":"D = 4.2527%","t":2.5}]},"mark":{"type":"text","align":"right","baseline":"top","dx":-3,"dy":3,"fontSize":6.5,"color":"#222"},"encoding":{"y":{"datum":6},"text":{"field":"d"}}}
   ]},
  {"title":{"text":"x10⁻⁷","frame":"group"},"width":141,"height":57,"data":{"name":"c2R"},"encoding":{"x":{"field":"t","type":"quantitative","scale":{"domain":[0,2.5],"nice":false,"zero":false},"axis":{"values":[0,0.5,1,1.5,2,2.5],"format":".1f","title":"Time (s)"}}},
   "layer":[
    {"mark":{"type":"line","interpolate":"monotone","clip":true,"color":"#a6a6a6","strokeWidth":0.7},"encoding":{"y":{"field":"u","type":"quantitative","scale":{"domain":[-5,5],"nice":false,"zero":false},"axis":{"values":[-5,-2.5,0,2.5,5],"format":"~g","title":"2ⁿᵈ floor - Z_B7 (EW)"}}}},
    {"mark":{"type":"line","interpolate":"monotone","clip":true,"color":"#a6a6a6","strokeWidth":0.7},"encoding":{"y":{"field":"l","type":"quantitative"}}},
    {"mark":{"type":"line","interpolate":"monotone","clip":true,"color":"#1a1a1a","strokeWidth":0.9},"encoding":{"y":{"field":"b","type":"quantitative"}}},
    {"mark":{"type":"line","interpolate":"monotone","clip":true,"color":"#e02020","strokeWidth":0.8},"encoding":{"y":{"field":"r","type":"quantitative"}}},
    {"data":{"values":[{"d":"D = 2.0485%","t":2.5}]},"mark":{"type":"text","align":"right","baseline":"top","dx":-3,"dy":3,"fontSize":6.5,"color":"#222"},"encoding":{"y":{"datum":5},"text":{"field":"d"}}}
   ]},
  {"title":{"text":"x10⁻⁷","frame":"group"},"width":141,"height":57,"data":{"name":"c3L"},"encoding":{"x":{"field":"t","type":"quantitative","scale":{"domain":[0,2.5],"nice":false,"zero":false},"axis":{"values":[0,0.5,1,1.5,2,2.5],"format":".1f","title":"Time (s)"}}},
   "layer":[
    {"mark":{"type":"line","interpolate":"monotone","clip":true,"color":"#a6a6a6","strokeWidth":0.7},"encoding":{"y":{"field":"u","type":"quantitative","scale":{"domain":[-3,3],"nice":false,"zero":false},"axis":{"values":[-3,-1.5,0,1.5,3],"format":"~g","title":"2ⁿᵈ floor - Z_E7 (NS)"}}}},
    {"mark":{"type":"line","interpolate":"monotone","clip":true,"color":"#a6a6a6","strokeWidth":0.7},"encoding":{"y":{"field":"l","type":"quantitative"}}},
    {"mark":{"type":"line","interpolate":"monotone","clip":true,"color":"#1a1a1a","strokeWidth":0.9},"encoding":{"y":{"field":"b","type":"quantitative"}}},
    {"mark":{"type":"line","interpolate":"monotone","clip":true,"color":"#e02020","strokeWidth":0.8},"encoding":{"y":{"field":"r","type":"quantitative"}}},
    {"data":{"values":[{"d":"D = 1.8299%","t":2.5}]},"mark":{"type":"text","align":"right","baseline":"top","dx":-3,"dy":3,"fontSize":6.5,"color":"#222"},"encoding":{"y":{"datum":3},"text":{"field":"d"}}},
    {"data":{"values":[{"s":"(c)","t":0}]},"mark":{"type":"text","align":"left","baseline":"middle","dx":-19,"dy":12,"fontSize":8,"color":"#222"},"encoding":{"y":{"datum":-3},"text":{"field":"s"}}}
   ]},
  {"title":{"text":"x10⁻⁷","frame":"group"},"width":141,"height":57,"data":{"name":"c3R"},"encoding":{"x":{"field":"t","type":"quantitative","scale":{"domain":[0,2.5],"nice":false,"zero":false},"axis":{"values":[0,0.5,1,1.5,2,2.5],"format":".1f","title":"Time (s)"}}},
   "layer":[
    {"mark":{"type":"line","interpolate":"monotone","clip":true,"color":"#a6a6a6","strokeWidth":0.7},"encoding":{"y":{"field":"u","type":"quantitative","scale":{"domain":[-2,2],"nice":false,"zero":false},"axis":{"values":[-2,-1,0,1,2],"format":"~g","title":"2ⁿᵈ floor - Z_E7 (EW)"}}}},
    {"mark":{"type":"line","interpolate":"monotone","clip":true,"color":"#a6a6a6","strokeWidth":0.7},"encoding":{"y":{"field":"l","type":"quantitative"}}},
    {"mark":{"type":"line","interpolate":"monotone","clip":true,"color":"#1a1a1a","strokeWidth":0.9},"encoding":{"y":{"field":"b","type":"quantitative"}}},
    {"mark":{"type":"line","interpolate":"monotone","clip":true,"color":"#e02020","strokeWidth":0.8},"encoding":{"y":{"field":"r","type":"quantitative"}}},
    {"data":{"values":[{"d":"D = 1.5137%","t":2.5}]},"mark":{"type":"text","align":"right","baseline":"top","dx":-3,"dy":3,"fontSize":6.5,"color":"#222"},"encoding":{"y":{"datum":2},"text":{"field":"d"}}}
   ]}
],
"config":{
 "font":"Liberation Sans",
 "view":{"stroke":"#444","strokeWidth":0.6},
 "title":{"fontSize":5.5,"anchor":"start","offset":1,"fontWeight":"normal","frame":"group","dx":-2,"color":"#222"},
 "axis":{"labelFontSize":6,"titleFontSize":6.5,"titleFontWeight":"normal","tickSize":2,"labelPadding":0,"titlePadding":0,"grid":false,"domainColor":"#333","tickColor":"#333","labelColor":"#222","titleColor":"#222","domainWidth":0.6,"tickWidth":0.6},
 "axisY":{"titleFontSize":6},
 "axisX":{"labelFlush":false}
}
}
